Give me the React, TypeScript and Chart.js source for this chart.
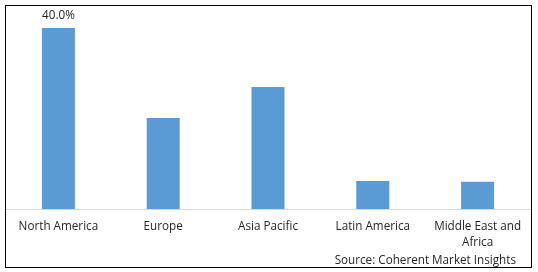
import React, { useEffect, useRef } from "react";
import { Chart, registerables } from "chart.js";

Chart.register(...registerables);

const categories: (string | string[])[] = [
  "North America",
  "Europe",
  "Asia Pacific",
  "Latin America",
  ["Middle East and", "Africa"],
];
const shareValues = [40.0, 20.1, 27.0, 6.2, 6.0];
const labeledIndex = [0];
const sourceText = "Source: Coherent Market Insights";

const FONT = "'Open Sans', 'Noto Sans', sans-serif";
const TEXT_COLOR = "#262626";

const frameAndLabels = {
  id: "frameAndLabels",
  afterDraw(chart: any) {
    const ctx = chart.ctx;
    ctx.save();
    ctx.strokeStyle = "#000000";
    ctx.lineWidth = 1;
    ctx.strokeRect(5.5, 5.5, 526, 262);
    const meta = chart.getDatasetMeta(0);
    ctx.fillStyle = TEXT_COLOR;
    ctx.font = `11.7px ${FONT}`;
    ctx.textAlign = "center";
    ctx.textBaseline = "middle";
    labeledIndex.forEach((i) => {
      const bar = meta.data[i];
      ctx.fillText(shareValues[i].toFixed(1) + "%", bar.x, bar.y - 12);
    });
    ctx.restore();
  },
};

export default function App() {
  const canvasRef = useRef<HTMLCanvasElement | null>(null);

  useEffect(() => {
    if (!canvasRef.current) return;
    const chart = new Chart(canvasRef.current, {
      type: "bar",
      data: {
        labels: categories,
        datasets: [
          {
            data: shareValues,
            backgroundColor: "#5B9BD5",
            barPercentage: 0.315,
            categoryPercentage: 1,
          },
        ],
      },
      options: {
        animation: false,
        responsive: false,
        maintainAspectRatio: false,
        layout: { padding: { left: 6, right: 8, top: 10, bottom: 0 } },
        plugins: {
          legend: { display: false },
          tooltip: { enabled: false },
        },
        scales: {
          x: {
            grid: { display: false, drawTicks: false },
            border: { display: true, color: "#d9d9d9", width: 1 },
            ticks: {
              color: TEXT_COLOR,
              font: { family: FONT, size: 11.7, lineHeight: "16px" },
              padding: 10,
              maxRotation: 0,
              autoSkip: false,
            },
            afterFit: (scale: any) => {
              scale.height = 63;
            },
          },
          y: {
            display: false,
            min: 0,
            max: 44,
          },
        },
      },
      plugins: [frameAndLabels],
    });
    return () => chart.destroy();
  }, []);

  return (
    <div style={{ position: "fixed", left: 0, top: 0, width: 538, height: 272, background: "#fff" }}>
      <canvas ref={canvasRef} width={538} height={272} style={{ display: "block" }} />
      <div
        style={{
          position: "absolute",
          right: 22,
          top: 251,
          fontFamily: FONT,
          fontSize: 11.7,
          lineHeight: "16px",
          color: TEXT_COLOR,
          whiteSpace: "nowrap",
        }}
      >
        {sourceText}
      </div>
    </div>
  );
}
